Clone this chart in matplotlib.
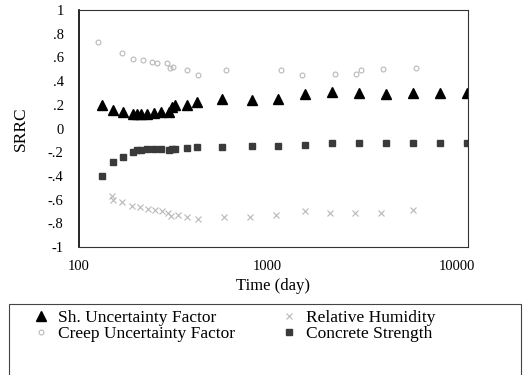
import matplotlib
matplotlib.use("Agg")
import matplotlib.pyplot as plt
from matplotlib.patches import Rectangle

plt.rcParams['font.family'] = ['Liberation Serif', 'DejaVu Serif']

# time (day) for the shrinkage factor / concrete strength points
time_main = [132, 151, 170, 193, 202, 212, 229, 250, 272, 300, 310, 324,
             372, 423, 574, 820, 1133, 1570, 2190, 3030, 4205, 5870, 8130, 11320]
sh_factor = [0.20, 0.16, 0.14, 0.12, 0.12, 0.12, 0.12, 0.13, 0.14, 0.14, 0.18, 0.20,
             0.20, 0.22, 0.25, 0.24, 0.25, 0.29, 0.31, 0.30, 0.29, 0.30, 0.30, 0.30]
conc_strength = [-0.40, -0.28, -0.24, -0.20, -0.18, -0.18, -0.17, -0.17, -0.175, -0.18,
                 -0.175, -0.17, -0.165, -0.16, -0.155, -0.145, -0.145, -0.14, -0.12,
                 -0.125, -0.125, -0.12, -0.125, -0.125]

# faint grey series
time_creep = [126, 168, 194, 219, 243, 259, 292, 305, 316, 372, 425, 600,
              1180, 1524, 2260, 2938, 3130, 4075, 6070]
creep_factor = [0.73, 0.635, 0.59, 0.58, 0.56, 0.555, 0.55, 0.51, 0.52, 0.49, 0.45, 0.49,
                0.49, 0.45, 0.46, 0.46, 0.49, 0.50, 0.51]
time_rh = [149, 151, 168, 191, 210, 232, 253, 275, 297, 309, 335, 375, 428,
           589, 803, 1112, 1570, 2128, 2884, 4000, 5870]
rel_humidity = [-0.57, -0.60, -0.62, -0.655, -0.665, -0.68, -0.685, -0.695, -0.71, -0.74,
                -0.73, -0.745, -0.765, -0.745, -0.745, -0.73, -0.70, -0.715, -0.715,
                -0.715, -0.69]

yticks = [1, 0.8, 0.6, 0.4, 0.2, 0, -0.2, -0.4, -0.6, -0.8, -1]
ytick_labels = ['1', '.8', '.6', '.4', '.2', '0', '-.2', '-.4', '-.6', '-.8', '-1']
xticks = [100, 1000, 10000]
xtick_labels = ['100', '1000', '10000']

fig = plt.figure(figsize=(5.26, 3.75), dpi=100)
ax = fig.add_axes([79/526, 1 - 247/375, (468 - 79)/526, (247 - 10)/375])

grey = '#b8b8b8'
h_sh, = ax.plot(time_main, sh_factor, ls='none', marker='^', ms=7, color='black')
h_creep, = ax.plot(time_creep, creep_factor, ls='none', marker='o', ms=3.5,
                   mfc='none', mec=grey, mew=0.8)
h_rh, = ax.plot(time_rh, rel_humidity, ls='none', marker='x', ms=4, color=grey, mew=0.8)
h_cs, = ax.plot(time_main, conc_strength, ls='none', marker='s', ms=5, color='#3a3a3a')

ax.set_xscale('log')
ax.set_xlim(100, 11500)
ax.set_ylim(-1, 1)
ax.set_xticks(xticks)
ax.set_xticklabels(xtick_labels)
ax.minorticks_off()
ax.set_yticks(yticks)
ax.set_yticklabels(ytick_labels)
ax.tick_params(length=0, labelsize=10.5, pad=11)
ax.tick_params(axis='x', pad=9)
for s in ax.spines.values():
    s.set_linewidth(0.8)
    s.set_color('#333333')
ax.spines['left'].set_linewidth(1.2)
ax.spines['left'].set_color('black')

ax.set_ylabel('SRRC', fontsize=12.5, labelpad=14)
ax.set_xlabel('Time (day)', fontsize=12, labelpad=4)

# legend box runs off the bottom of the figure
fig.patches.append(Rectangle((9/526, -0.1), 512/526, (375 - 304)/375 + 0.1,
                             transform=fig.transFigure, fill=False,
                             lw=0.8, ec='#444444'))

leg_kw = dict(loc='upper left', frameon=False, fontsize=12.5, borderpad=0,
              handlelength=0.9, handletextpad=0.5, labelspacing=0.0)
fig.legend([h_sh, h_creep], ['Sh. Uncertainty Factor', 'Creep Uncertainty Factor'],
           bbox_to_anchor=(25/526, 1 - 301/375), **leg_kw)
fig.legend([h_rh, h_cs], ['Relative Humidity', 'Concrete Strength'],
           bbox_to_anchor=(273/526, 1 - 301/375), **leg_kw)

fig.savefig('out.png', dpi=100)
